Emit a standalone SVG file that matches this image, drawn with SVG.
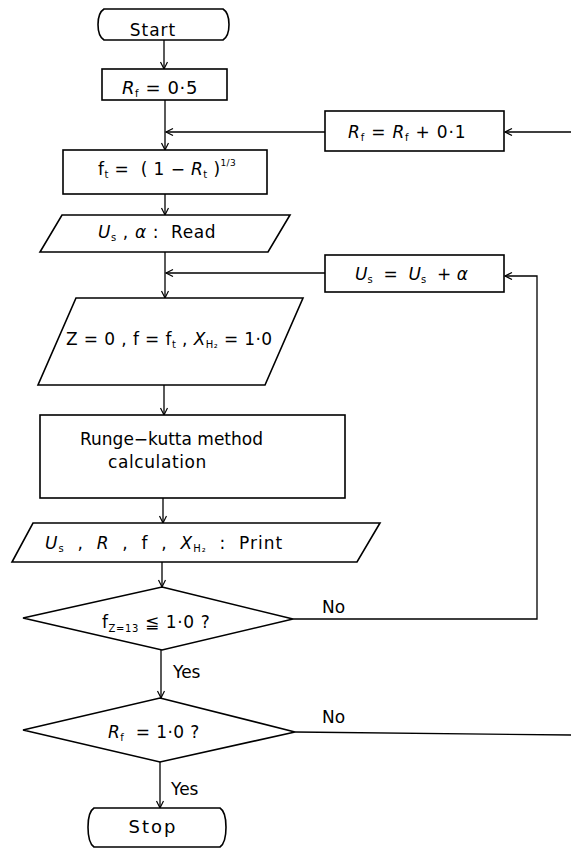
<svg xmlns="http://www.w3.org/2000/svg" width="571" height="849" viewBox="0 0 571 849">
<style>
.n{fill:#fff;stroke:#000;stroke-width:1.6}
.c{fill:none;stroke:#000;stroke-width:1.3}
text{font-family:"DejaVu Sans","Liberation Sans",sans-serif;font-size:17px;fill:#000;white-space:pre}
.i{font-style:italic}
.sub{font-size:10px}
.sup{font-size:9px}
</style>
<defs>
<marker id="ah" markerUnits="userSpaceOnUse" markerWidth="10" markerHeight="10" refX="8" refY="4" orient="auto">
<path d="M1,0.5 L8,4 L1,7.5" fill="none" stroke="#000" stroke-width="1.2"/>
</marker>
</defs>
<rect width="571" height="849" fill="#fff"/>
<g id="connectors">
<path class="c" d="M164,40 V69" marker-end="url(#ah)"/>
<path class="c" d="M165,100 V150" marker-end="url(#ah)"/>
<path class="c" d="M325,132 H166" marker-end="url(#ah)"/>
<path class="c" d="M295,732 L572,735 V132 H505" marker-end="url(#ah)"/>
<path class="c" d="M165,194 V215" marker-end="url(#ah)"/>
<path class="c" d="M165,252 V298" marker-end="url(#ah)"/>
<path class="c" d="M325,273 H166" marker-end="url(#ah)"/>
<path class="c" d="M164,385 V415" marker-end="url(#ah)"/>
<path class="c" d="M163,498 V523" marker-end="url(#ah)"/>
<path class="c" d="M162,562 V587" marker-end="url(#ah)"/>
<path class="c" d="M293,619 H537 V276 H505" marker-end="url(#ah)"/>
<path class="c" d="M161,650 V698" marker-end="url(#ah)"/>
<path class="c" d="M160,762 V808" marker-end="url(#ah)"/>
<text x="322" y="613">No</text>
<text x="173" y="678">Yes</text>
<text x="322" y="723">No</text>
<text x="171" y="795">Yes</text>
</g>
<g id="start">
<path class="n" d="M104,9 H223 C231,14 231,35 223,40 H104 C96,35 96,14 104,9Z"/>
<text x="153" y="36" text-anchor="middle" style="letter-spacing:1px">Start</text>
</g>
<g id="init-rf">
<rect class="n" x="102" y="69" width="125" height="31"/>
<text x="122" y="94" style="font-size:18px;letter-spacing:0.6px"><tspan class="i">R</tspan><tspan class="sub" dy="3">f</tspan><tspan dy="-3"> = 0·5</tspan></text>
</g>
<g id="inc-rf">
<rect class="n" x="325" y="111" width="179" height="40"/>
<text x="348" y="138" style="letter-spacing:0.8px"><tspan class="i">R</tspan><tspan class="sub" dy="3">f</tspan><tspan dy="-3"> = </tspan><tspan class="i">R</tspan><tspan class="sub" dy="3">f</tspan><tspan dy="-3"> + 0·1</tspan></text>
</g>
<g id="ft">
<rect class="n" x="63" y="150" width="204" height="44"/>
<text x="98" y="175" style="letter-spacing:0.4px">f<tspan class="sub" dy="3">t</tspan><tspan dy="-3"> =  ( 1 − </tspan><tspan class="i">R</tspan><tspan class="sub" dy="3">t</tspan><tspan dy="-3"> )</tspan><tspan class="sup" dy="-9">1/3</tspan></text>
</g>
<g id="read">
<polygon class="n" points="62,215 290,215 268,252 40,252"/>
<text x="98" y="238" style="letter-spacing:0.6px"><tspan class="i">U</tspan><tspan class="sub" dy="3">s</tspan><tspan dy="-3"> , </tspan><tspan class="i">α</tspan><tspan> :  Read</tspan></text>
</g>
<g id="inc-us">
<rect class="n" x="325" y="255" width="179" height="37"/>
<text x="355" y="280"><tspan class="i">U</tspan><tspan class="sub" dy="3">s</tspan><tspan dy="-3">  =  </tspan><tspan class="i">U</tspan><tspan class="sub" dy="3">s</tspan><tspan dy="-3">  + </tspan><tspan class="i">α</tspan></text>
</g>
<g id="init-z">
<polygon class="n" points="76,298 303,298 265,385 38,385"/>
<text x="66" y="345" style="letter-spacing:0.4px">Z = 0 , f = f<tspan class="sub" dy="3">t</tspan><tspan dy="-3"> , </tspan><tspan class="i">X</tspan><tspan class="sub" dy="3">H₂</tspan><tspan dy="-3"> = 1·0</tspan></text>
</g>
<g id="runge-kutta">
<rect class="n" x="40" y="415" width="305" height="83"/>
<text x="80" y="445">Runge−kutta method</text>
<text x="108" y="468" style="letter-spacing:0.6px">calculation</text>
</g>
<g id="print">
<polygon class="n" points="33,523 380,523 357,562 12,562"/>
<text x="45" y="549" style="letter-spacing:1px"><tspan class="i">U</tspan><tspan class="sub" dy="3">s</tspan><tspan dy="-3">  ,  </tspan><tspan class="i">R</tspan><tspan>  ,  f  ,  </tspan><tspan class="i">X</tspan><tspan class="sub" dy="3">H₂</tspan><tspan dy="-3">  :  Print</tspan></text>
</g>
<g id="check-f">
<polygon class="n" points="162,587 293,619 162,650 23,618"/>
<text x="102" y="628" style="letter-spacing:0.6px">f<tspan class="sub" dy="4">Z=13</tspan><tspan dy="-4"> ≦ 1·0 ?</tspan></text>
</g>
<g id="check-rf">
<polygon class="n" points="160,698 295,732 160,762 23,730"/>
<text x="108" y="738" style="letter-spacing:0.4px"><tspan class="i">R</tspan><tspan class="sub" dy="3">f</tspan><tspan dy="-3">  = 1·0 ?</tspan></text>
</g>
<g id="stop">
<path class="n" d="M94,808 H220 C228,813 228,841 220,847 H94 C86,841 86,813 94,808Z"/>
<text x="153" y="833" text-anchor="middle" style="font-size:18px;letter-spacing:2px">Stop</text>
</g>
</svg>
